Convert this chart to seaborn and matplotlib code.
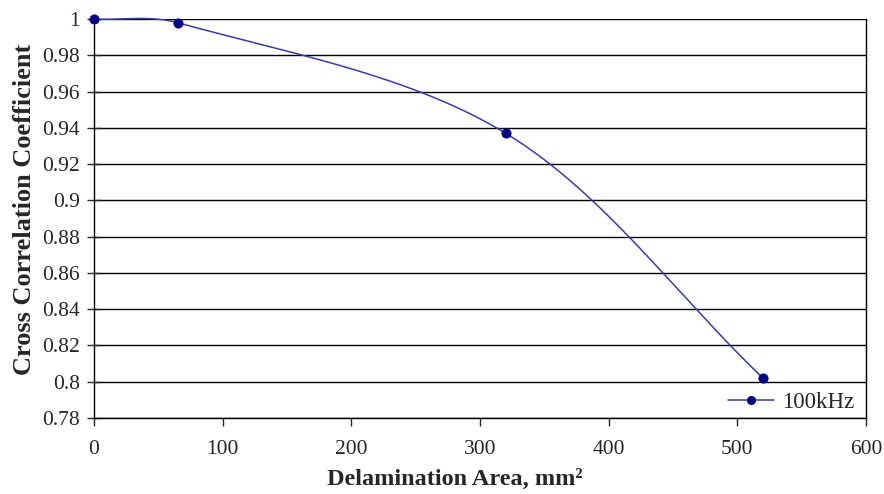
import numpy as np
import pandas as pd
import matplotlib
matplotlib.use("Agg")
import matplotlib.pyplot as plt
from matplotlib.lines import Line2D
import seaborn as sns

# data
area = [0, 65, 320, 520]
coeff = [1.0, 0.998, 0.937, 0.802]
series_name = "100kHz"
x_ticks = [0, 100, 200, 300, 400, 500, 600]
y_ticks = [0.78, 0.80, 0.82, 0.84, 0.86, 0.88, 0.90, 0.92, 0.94, 0.96, 0.98, 1.0]

XLIM = (0, 600)
YLIM = (0.78, 1.0)
AX_POS = [0.1063, 0.1538, 0.8733, 0.8077]
FIG_W, FIG_H = 884, 494


# Excel style smoothed line: Bezier segments, control points from
# chord-length weighted tangents (measured in pixel space)
def smooth_line(xs, ys, n=60):
    sx = AX_POS[2] * FIG_W / (XLIM[1] - XLIM[0])
    sy = AX_POS[3] * FIG_H / (YLIM[1] - YLIM[0])
    pts = np.column_stack([np.asarray(xs, float) * sx, np.asarray(ys, float) * sy])
    padded = np.vstack([pts[0], pts, pts[-1]])
    d = np.linalg.norm(np.diff(padded, axis=0), axis=1)
    out = []
    for i in range(1, len(padded) - 2):
        p0, p1, p2, p3 = padded[i - 1], padded[i], padded[i + 1], padded[i + 2]
        d0, d1, d2 = d[i - 1], d[i], d[i + 1]
        c1 = p1 + (p2 - p0) * d1 / (d0 + d1) / 3.0
        c2 = p2 - (p3 - p1) * d1 / (d1 + d2) / 3.0
        t = np.linspace(0, 1, n)[:, None]
        seg = ((1 - t) ** 3) * p1 + 3 * ((1 - t) ** 2) * t * c1 + 3 * (1 - t) * t ** 2 * c2 + t ** 3 * p2
        out.append(seg if i == 1 else seg[1:])
    res = np.vstack(out)
    return res[:, 0] / sx, res[:, 1] / sy


cx, cy = smooth_line(area, coeff)
curve_df = pd.DataFrame({"area": cx, "coeff": cy})
points_df = pd.DataFrame({"area": area, "coeff": coeff})

sns.set_style("white")
plt.rcParams['font.family'] = ['Liberation Serif', 'DejaVu Serif']

fig = plt.figure(figsize=(FIG_W / 100, FIG_H / 100), dpi=100)
ax = fig.add_axes(AX_POS)

line_col = "#3c3ca8"
mark_col = "#000080"

sns.lineplot(data=curve_df, x="area", y="coeff", ax=ax, color=line_col, lw=1.1,
             sort=False, estimator=None)
for ln in ax.lines:
    ln.set_clip_on(False)
sns.scatterplot(data=points_df, x="area", y="coeff", ax=ax, color=mark_col, s=45,
                edgecolor=mark_col, zorder=5, clip_on=False)

ax.set_xlim(*XLIM)
ax.set_ylim(*YLIM)
ax.set_xticks(x_ticks)
ax.set_yticks(y_ticks)
ax.set_yticklabels([f"{v:g}" for v in y_ticks])
ax.grid(axis="y", color="black", lw=1.0)
ax.set_axisbelow(True)

for side in ["left", "bottom", "right"]:
    ax.spines[side].set_color("black")
    ax.spines[side].set_linewidth(1.0)
ax.spines["top"].set_visible(False)

ax.tick_params(axis="y", direction="inout", length=10, width=1, labelsize=15.5, pad=5, left=True)
ax.tick_params(axis="x", direction="out", length=6, width=1, labelsize=15.5, pad=10, bottom=True)

ax.set_xlabel("Delamination Area, mm²", fontsize=17.5, fontweight="bold")
ax.set_ylabel("Cross Correlation Coefficient", fontsize=19, fontweight="bold")
ax.xaxis.set_label_coords(0.468, -0.128)
ax.yaxis.set_label_coords(-0.075, 0.524)

handle = Line2D([], [], color=line_col, lw=1.1, marker="o", markersize=5.5,
                markerfacecolor=mark_col, markeredgecolor=mark_col)
ax.legend([handle], [series_name], loc="center right", bbox_to_anchor=(1.0, 0.04),
          frameon=False, fontsize=16.5, handlelength=2.0, handletextpad=0.35,
          borderaxespad=0.1)

fig.savefig("out.png", dpi=100)
